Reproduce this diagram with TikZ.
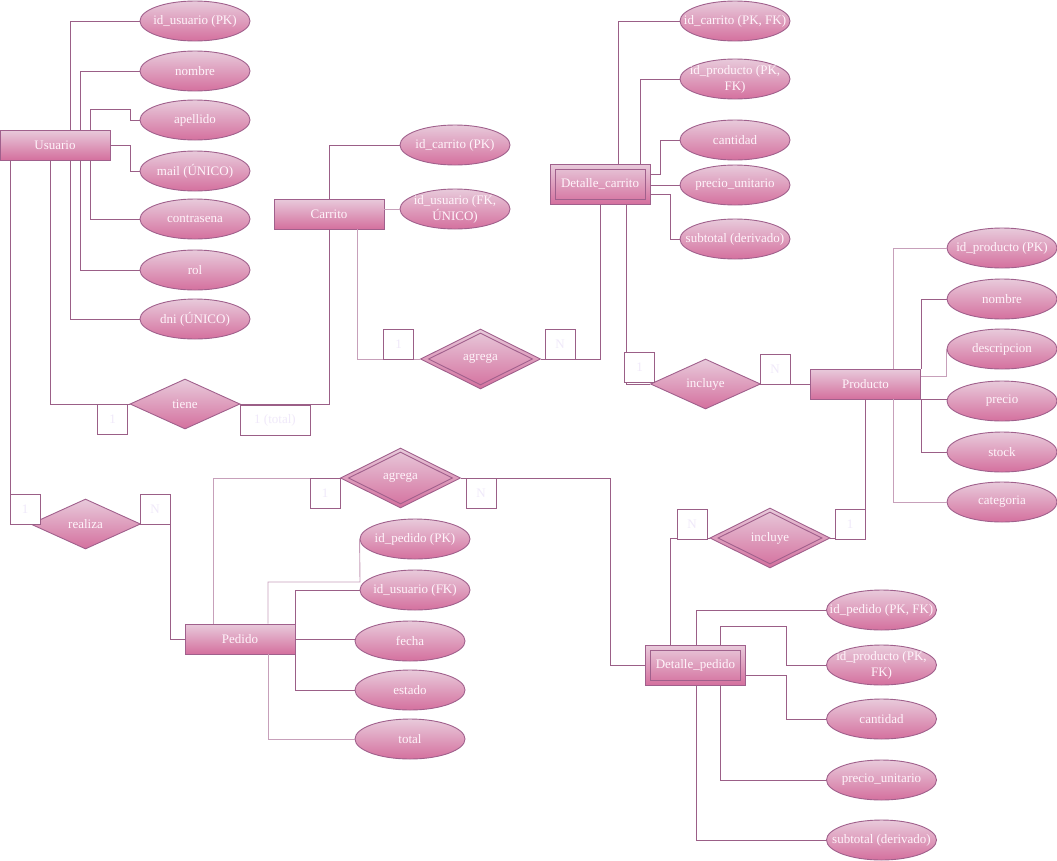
\documentclass[tikz,border=0pt]{standalone}
\usepackage{fontspec}
\setmainfont{Liberation Serif}
\usepackage{tikz}
\usetikzlibrary{shapes.geometric}

\definecolor{rosaborde}{HTML}{A0608C}
\definecolor{rosalinea}{HTML}{9B5F87}
\definecolor{rosaclaro}{HTML}{C7A0BA}
\definecolor{rosaarriba}{HTML}{E8CADB}
\definecolor{rosaabajo}{HTML}{D4709E}
\definecolor{textorosa}{HTML}{FFF4FA}
\definecolor{textocard}{HTML}{F0E9FA}

\begin{document}
\begin{tikzpicture}[x=1pt,y=-1pt,line width=0.9pt,
		every node/.style={font=\fontsize{13}{16}\selectfont,text=textorosa},
		ent/.style={rectangle,draw=rosaborde,top color=rosaarriba,bottom color=rosaabajo,minimum width=110pt,minimum height=30pt,inner sep=0pt},
		weak/.style={ent,minimum width=100pt,minimum height=40pt,
			path picture={\draw[rosaborde] ([shift={(5pt,-5pt)}]path picture bounding box.north west) rectangle ([shift={(-5pt,5pt)}]path picture bounding box.south east);}},
		rel/.style={diamond,aspect=2,draw=rosaborde,top color=rosaarriba,bottom color=rosaabajo,minimum width=110pt,minimum height=50pt,inner sep=0pt},
		wrel/.style={rel,minimum width=120pt,minimum height=60pt,
			path picture={\draw[rosaborde] ([yshift=-4pt]path picture bounding box.north) -- ([xshift=-8pt]path picture bounding box.east) -- ([yshift=4pt]path picture bounding box.south) -- ([xshift=8pt]path picture bounding box.west) -- cycle;}},
		atr/.style={ellipse,draw=rosaborde,top color=rosaarriba,bottom color=rosaabajo,minimum width=110pt,minimum height=40pt,inner sep=-20pt,align=center},
		card/.style={rectangle,draw=rosalinea,fill=white,minimum size=30pt,inner sep=0pt,text=textocard},
		conector/.style={draw=rosalinea},
		conectorclaro/.style={draw=rosaclaro}]
	\useasboundingbox (0,0) rectangle (1057,860);

	% entidades
	\node[ent] (usuario) at (55,145) {Usuario};
	\node[ent] (carrito) at (329,214) {Carrito};
	\node[weak] (detcarrito) at (600,184) {Detalle\_carrito};
	\node[ent] (producto) at (865.5,384) {Producto};
	\node[ent] (pedido) at (240,639) {Pedido};
	\node[weak] (detpedido) at (695.5,665) {Detalle\_pedido};

	% relaciones
	\node[rel] (tiene) at (185,404) {tiene};
	\node[wrel] (agregacar) at (480.5,359) {agrega};
	\node[rel] (incluyecar) at (705.5,384) {incluye};
	\node[wrel] (incluyeped) at (770,538) {incluye};
	\node[wrel] (agregaped) at (400.5,478) {agrega};
	\node[rel] (realiza) at (85.5,524) {realiza};

	% atributos
	\node[atr] (idus) at (195,21) {id\_usuario (PK)};
	\node[atr] (nomus) at (195,71) {nombre};
	\node[atr] (apeus) at (195,120) {apellido};
	\node[atr] (mailus) at (195,171) {mail (ÚNICO)};
	\node[atr] (contrus) at (195,219) {contrasena};
	\node[atr] (rolus) at (195,270) {rol};
	\node[atr] (dnius) at (195,319) {dni (ÚNICO)};

	\node[atr] (idcar) at (455,145) {id\_carrito (PK)};
	\node[atr] (iduscar) at (455,209) {id\_usuario (FK,\\ÚNICO)};

	\node[atr] (dcidcar) at (735,21) {id\_carrito (PK, FK)};
	\node[atr] (dcidprod) at (735,79) {id\_producto (PK,\\FK)};
	\node[atr] (dccant) at (735,140) {cantidad};
	\node[atr] (dcprecio) at (735,185) {precio\_unitario};
	\node[atr] (dcsub) at (735,239) {subtotal (derivado)};

	\node[atr] (pridprod) at (1002,248) {id\_producto (PK)};
	\node[atr] (prnom) at (1002,299) {nombre};
	\node[atr] (prdesc) at (1002,349) {descripcion};
	\node[atr] (prprecio) at (1002,401) {precio};
	\node[atr] (prstock) at (1002,452) {stock};
	\node[atr] (prcat) at (1002,502) {categoria};

	\node[atr] (peid) at (415,539) {id\_pedido (PK)};
	\node[atr] (peidus) at (415,590) {id\_usuario (FK)};
	\node[atr] (pefecha) at (410,641) {fecha};
	\node[atr] (peestado) at (410,690) {estado};
	\node[atr] (petotal) at (410,739) {total};

	\node[atr] (dpidped) at (881.5,610) {id\_pedido (PK, FK)};
	\node[atr] (dpidprod) at (881.5,665) {id\_producto (PK,\\FK)};
	\node[atr] (dpcant) at (881.5,719) {cantidad};
	\node[atr] (dpprecio) at (881.5,780) {precio\_unitario};
	\node[atr] (dpsub) at (881.5,840) {subtotal (derivado)};

	% lineas de atributos
	\draw[conector] (usuario.north -| 70,0) |- (idus.west);
	\draw[conector] (usuario.north -| 80,0) |- (nomus.west);
	\draw[conector] (usuario.north -| 90,0) |- (130,109) |- (apeus.west);
	\draw[conector] (usuario.east) -- (130,145) |- (mailus.west);
	\draw[conector] (usuario.south -| 90,0) |- (contrus.west);
	\draw[conector] (usuario.south -| 80,0) |- (rolus.west);
	\draw[conector] (usuario.south -| 70,0) |- (dnius.west);

	\draw[conector] (carrito.north) |- (idcar.west);
	\draw[conectorclaro] (iduscar.west -| carrito.east) -- (iduscar.west);

	\draw[conector] (detcarrito.north -| 618,0) |- (dcidcar.west);
	\draw[conector] (detcarrito.north -| 640,0) |- (dcidprod.west);
	\draw[conector] (detcarrito.east |- 0,174) -- (660,174) |- (dccant.west);
	\draw[conector] (detcarrito.east |- dcprecio.west) -- (dcprecio.west);
	\draw[conector] (detcarrito.east |- 0,194) -- (670,194) |- (dcsub.west);

	\draw[conectorclaro] (producto.north -| 893,0) |- (pridprod.west);
	\draw[conector] (producto.north east) |- (prnom.west);
	\draw[conectorclaro] (producto.east |- 0,376) -| (prdesc.west);
	\draw[conector] (producto.south east) -- (prprecio.west |- producto.south east);
	\draw[conector] (producto.south east) |- (prstock.west);
	\draw[conectorclaro] (producto.south -| 893,0) |- (prcat.west);

	\draw[conectorclaro] (pedido.north -| 268,0) |- (360,582) -- (peid.west);
	\draw[conector] (pedido.north east) |- (peidus.west);
	\draw[conector] (pedido.east) -- (pefecha.west |- pedido.east);
	\draw[conector] (pedido.south east) |- (peestado.west);
	\draw[conectorclaro] (pedido.south -| 268,0) |- (petotal.west);

	\draw[conector] (detpedido.north -| 696,0) |- (dpidped.west);
	\draw[conector] (detpedido.north -| 720,0) |- (786,626) |- (dpidprod.west);
	\draw[conector] (detpedido.east |- 0,675) -- (786,675) |- (dpcant.west);
	\draw[conector] (detpedido.south -| 720,0) |- (dpprecio.west);
	\draw[conector] (detpedido.south -| 696,0) |- (dpsub.west);

	% lineas de relaciones
	\draw[conector] (usuario.south -| 50,0) |- (tiene.west);
	\draw[conector] (tiene.east) -| (carrito.south);
	\draw[conectorclaro] (carrito.south -| 357,0) |- (agregacar.west);
	\draw[conector] (agregacar.east) -| (detcarrito.south);
	\draw[conector] (detcarrito.south -| 626,0) |- (incluyecar.west);
	\draw[conector] (incluyecar.east) -- (producto.west);
	\draw[conector] (producto.south) |- (incluyeped.east);
	\draw[conector] (incluyeped.west) -| (detpedido.north -| 670,0);
	\draw[conector] (agregaped.east) -| (610,665) -- (detpedido.west);
	\draw[conectorclaro] (agregaped.west) -| (pedido.north -| 213,0);
	\draw[conector] (usuario.south -| 10,0) |- (realiza.west);
	\draw[conector] (realiza.east) -- (170,524) |- (pedido.west);

	% cardinalidades
	\node[card] (c1tiene) at (112.5,419) {1};
	\node[card,minimum width=70pt] (c2tiene) at (275,420) {1 (total)};
	\node[card] (c1agc) at (398.5,344) {1};
	\node[card] (c2agc) at (560,344) {N};
	\node[card] (c1inc) at (639.5,367) {1};
	\node[card] (c2inc) at (775,369) {N};
	\node[card] (c1inp) at (692,524) {N};
	\node[card] (c2inp) at (850,524) {1};
	\node[card] (c1agp) at (325,493) {1};
	\node[card] (c2agp) at (481,493) {N};
	\node[card] (c1rea) at (25,509) {1};
	\node[card] (c2rea) at (155,509) {N};
\end{tikzpicture}
\end{document}
